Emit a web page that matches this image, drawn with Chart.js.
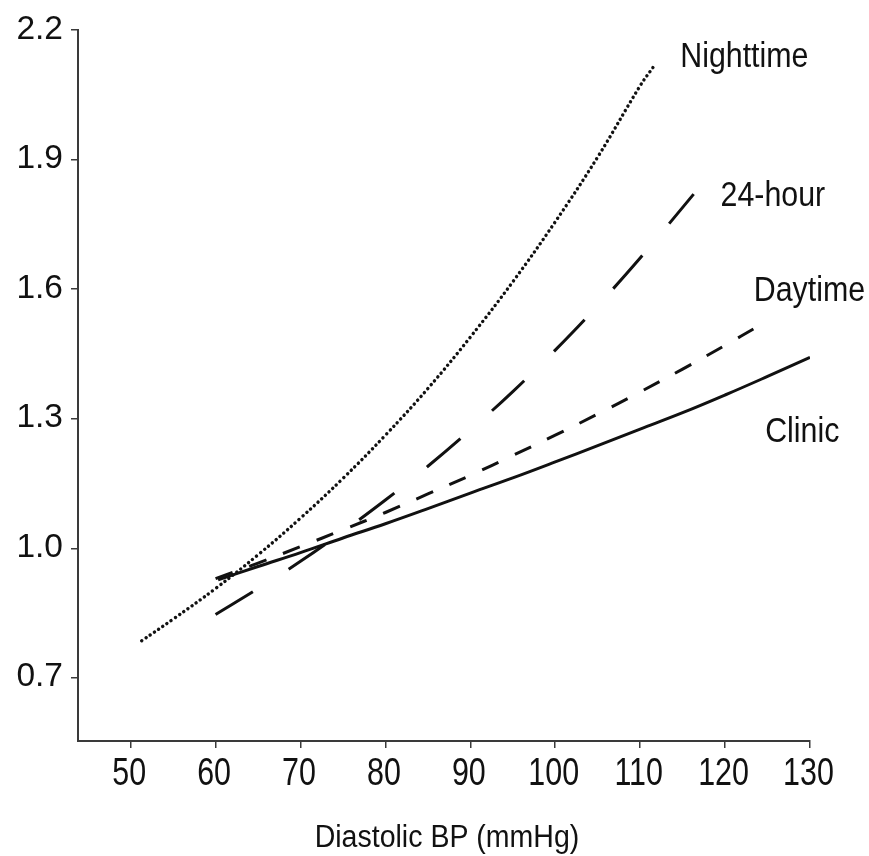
<!DOCTYPE html>
<html>
<head>
<meta charset="utf-8">
<script src="https://cdn.jsdelivr.net/npm/chart.js@4.4.1/dist/chart.umd.min.js"></script>
<style>
  html, body { margin: 0; padding: 0; background: #fff; }
  #wrap { width: 869px; height: 856px; }
</style>
</head>
<body>
<div id="wrap"><canvas id="bp-chart" width="869" height="856"></canvas></div>
<script>
// values
const nightX = [51.3, 55, 60, 65, 70, 75, 80, 85, 90, 95, 100, 105, 110, 111.5];
const nightY = [0.786, 0.836, 0.907, 0.985, 1.070, 1.162, 1.262, 1.370, 1.489, 1.617, 1.756, 1.906, 2.071, 2.113];

const hour24X = [60, 65, 70, 75, 80, 85, 90, 95, 100, 105, 110, 116.3];
const hour24Y = [0.847, 0.907, 0.970, 1.039, 1.112, 1.190, 1.274, 1.363, 1.459, 1.562, 1.672, 1.820];

const dayX = [60, 65, 70, 75, 80, 85, 90, 95, 100, 105, 110, 115, 120, 123.8];
const dayY = [0.930, 0.966, 1.004, 1.043, 1.083, 1.126, 1.169, 1.215, 1.262, 1.311, 1.362, 1.415, 1.470, 1.513];

const clinicX = [60.3, 65, 70, 75, 80, 85, 90, 95, 100, 105, 110, 115, 120, 125, 130];
const clinicY = [0.927, 0.958, 0.990, 1.024, 1.057, 1.092, 1.128, 1.163, 1.200, 1.238, 1.276, 1.314, 1.355, 1.398, 1.442];

const xTicks = [50, 60, 70, 80, 90, 100, 110, 120, 130];
const yTicks = [0.7, 1.0, 1.3, 1.6, 1.9, 2.2];

const seriesNames = ['Nighttime', '24-hour', 'Daytime', 'Clinic'];
const xTitle = 'Diastolic BP (mmHg)';

const sans = "'Liberation Sans', Arial, 'Helvetica', sans-serif";
const ink = '#111';
const axisInk = '#3a3a3a';

const toPoints = (xs, ys) => xs.map((x, i) => ({ x: x, y: ys[i] }));

// where the curve names sit (data coords: left edge, baseline)
const nameSpots = [
  { x: 114.72, y: 2.114 },
  { x: 119.46, y: 1.793 },
  { x: 123.38, y: 1.573 },
  { x: 124.72, y: 1.247 }
];

// the reference uses a condensed grotesque, so squeeze Liberation Sans sideways
function squeezedText(ctx, text, x, y, size, squeeze, align) {
  ctx.save();
  ctx.font = size + 'px ' + sans;
  ctx.textBaseline = 'alphabetic';
  const w = ctx.measureText(text).width * squeeze;
  let left = x;
  if (align === 'center') left = x - w / 2;
  if (align === 'right') left = x - w;
  ctx.translate(left, y);
  ctx.scale(squeeze, 1);
  ctx.textAlign = 'left';
  ctx.fillText(text, 0, 0);
  ctx.restore();
}

const textLayer = {
  id: 'textLayer',
  afterDraw(chart) {
    const ctx = chart.ctx;
    const xs = chart.scales.x, ys = chart.scales.y;
    ctx.save();
    ctx.fillStyle = ink;

    xTicks.forEach(v => {
      squeezedText(ctx, String(v), xs.getPixelForValue(v) - 1.5, xs.top + 44, 39, 0.78, 'center');
    });
    yTicks.forEach(v => {
      squeezedText(ctx, v.toFixed(1), ys.left + 63, ys.getPixelForValue(v) + 8.5, 33.5, 1, 'right');
    });

    const area = chart.chartArea;
    squeezedText(ctx, xTitle, (area.left + area.right) / 2 + 3, xs.top + 106, 31, 0.92, 'center');

    seriesNames.forEach((name, i) => {
      squeezedText(ctx, name, xs.getPixelForValue(nameSpots[i].x), ys.getPixelForValue(nameSpots[i].y), 34.5, 0.88, 'left');
    });
    ctx.restore();
  }
};

const ctx = document.getElementById('bp-chart').getContext('2d');

new Chart(ctx, {
  type: 'line',
  data: {
    datasets: [{
      label: seriesNames[0],
      data: toPoints(nightX, nightY),
      borderColor: ink,
      borderWidth: 3.4,
      borderDash: [0.1, 5],
      borderCapStyle: 'round',
      tension: 0.4
    }, {
      label: seriesNames[1],
      data: toPoints(hour24X, hour24Y),
      borderColor: ink,
      borderWidth: 3,
      borderDash: [44, 42],
      tension: 0.4
    }, {
      label: seriesNames[2],
      data: toPoints(dayX, dayY),
      borderColor: ink,
      borderWidth: 3,
      borderDash: [18, 18],
      tension: 0.4
    }, {
      label: seriesNames[3],
      data: toPoints(clinicX, clinicY),
      borderColor: ink,
      borderWidth: 3,
      tension: 0.4
    }]
  },
  options: {
    responsive: false,
    animation: false,
    events: [],
    layout: {
      padding: { top: 30, right: 59, left: 0, bottom: 0 }
    },
    elements: {
      point: { radius: 0 }
    },
    scales: {
      x: {
        type: 'linear',
        min: 43.8,
        max: 130,
        afterBuildTicks: (scale) => { scale.ticks = xTicks.map(v => ({ value: v })); },
        afterFit: (scale) => { scale.height = 115; },
        border: { display: true, color: axisInk, width: 2 },
        grid: { display: true, drawOnChartArea: false, drawTicks: true, tickLength: 7, color: axisInk, lineWidth: 1.5 },
        ticks: { display: false }
      },
      y: {
        type: 'linear',
        min: 0.554,
        max: 2.2,
        afterBuildTicks: (scale) => { scale.ticks = yTicks.map(v => ({ value: v })); },
        afterFit: (scale) => { scale.width = 78; },
        border: { display: true, color: axisInk, width: 2 },
        grid: { display: true, drawOnChartArea: false, drawTicks: true, tickLength: 7, color: axisInk, lineWidth: 1.5 },
        ticks: { display: false }
      }
    },
    plugins: {
      legend: { display: false },
      tooltip: { enabled: false }
    }
  },
  plugins: [textLayer]
});
</script>
</body>
</html>
